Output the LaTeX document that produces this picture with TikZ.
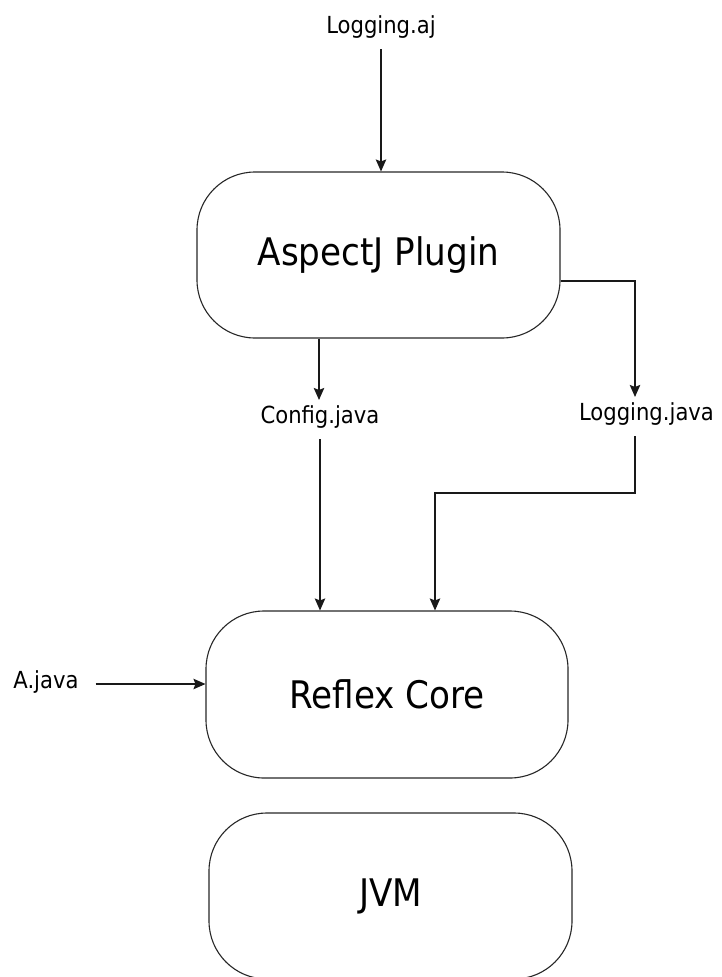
\documentclass[tikz,border=0pt]{standalone}
\usepackage{fontspec}
\setmainfont{DejaVu Sans Condensed}
\usetikzlibrary{arrows.meta}
\tikzset{
  x=1pt, y=1pt,
  boxnode/.style={draw=black!85, line width=1.1pt, rounded corners=58pt, minimum width=363pt, minimum height=166pt, inner sep=0pt, font=\fontsize{38}{44}\selectfont},
  lbl/.style={inner xsep=4pt, inner ysep=5pt, font=\fontsize{23.5}{28}\selectfont},
  arr/.style={draw=black!90, line width=1.1pt, -{Stealth[length=12pt,width=10.5pt,inset=2pt]}},
  ln/.style={draw=black!90, line width=1.1pt}
}
\begin{document}
\begin{tikzpicture}
\useasboundingbox (0,0) rectangle (721,-977);
% boxes
\node[boxnode] (ap) at (378.5,-255) {\raisebox{4pt}{AspectJ Plugin}};
\node[boxnode, minimum width=362pt, minimum height=167pt] (rc) at (387,-694.5) {Reflex Core};
\node[boxnode] (jvm) at (390.5,-896) {JVM};
% labels
\node[lbl, anchor=base] (laj) at (381,-33) {Logging.aj};
\node[lbl, anchor=base] (cj) at (320,-423) {Config.java};
\node[lbl, anchor=base] (lj) at (646.5,-420) {Logging.java};
\node[lbl, anchor=base] (aj) at (46,-688) {A.java};
% bend coordinates
\coordinate (lbend) at (635,-281);
\coordinate (lbend2) at (435,-493);
% connectors
\draw[arr, shorten <=6pt] (laj.south) -- (laj.south |- ap.north);
\draw[arr] (ap.south -| 319,0) -- (cj.north -| 319,0);
\draw[arr, shorten <=6pt] (cj.south -| 320,0) -- (rc.north -| 320,0);
\draw[arr] (ap.east |- lbend) -- (lbend) -- (lbend |- lj.north);
\draw[arr, shorten <=6pt] (lbend |- lj.south) -- (lbend |- lbend2) -- (lbend2) -- (lbend2 |- rc.north);
\draw[arr, shorten <=13pt] (aj.east |- 0,-684) -- (rc.west |- 0,-684);
\end{tikzpicture}
\end{document}
